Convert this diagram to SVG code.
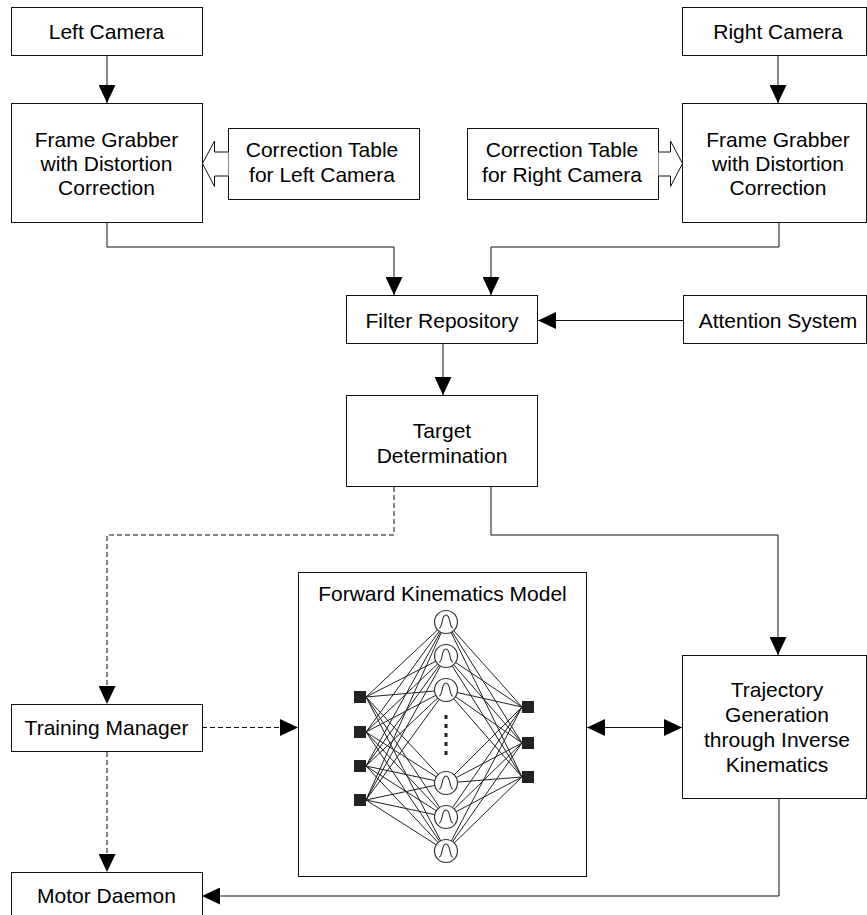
<svg xmlns="http://www.w3.org/2000/svg" width="867" height="915" viewBox="0 0 867 915">
<style>
.box{fill:#fff;stroke:#111;stroke-width:1}
.t{font-family:"Liberation Sans",Arial,sans-serif;font-size:21px;fill:#000;text-anchor:middle}
.c{fill:none;stroke:#111;stroke-width:1}
.d{fill:none;stroke:#111;stroke-width:1;stroke-dasharray:5 3}
.nl{stroke:#222;stroke-width:1}
.neu{fill:#fff;stroke:#333;stroke-width:1.2}
.g{fill:none;stroke:#333;stroke-width:1.1}
.sq{fill:#222}
</style>
<defs>
<marker id="ah" viewBox="0 0 18 17" refX="18" refY="8.5" markerWidth="18" markerHeight="17" markerUnits="userSpaceOnUse" orient="auto-start-reverse">
<path d="M0,0 L18,8.5 L0,17 z" fill="#000"/>
</marker>
</defs>
<rect width="867" height="915" fill="#fff"/>
<g id="connectors">
<path class="c" d="M107,55 V103" marker-end="url(#ah)"/>
<path class="c" d="M778,55 V103" marker-end="url(#ah)"/>
<path class="c" d="M107,222 V247 H394 V295" marker-end="url(#ah)"/>
<path class="c" d="M779,222 V247 H491 V295" marker-end="url(#ah)"/>
<path class="c" d="M683,320.5 H538" marker-end="url(#ah)"/>
<path class="c" d="M443,344 V395" marker-end="url(#ah)"/>
<path class="d" d="M394,487 V535 H107 V704" marker-end="url(#ah)"/>
<path class="c" d="M491,487 V535 H778 V655" marker-end="url(#ah)"/>
<path class="d" d="M202,727.5 H298" marker-end="url(#ah)"/>
<path class="c" d="M587,727.5 H682" marker-start="url(#ah)" marker-end="url(#ah)"/>
<path class="d" d="M107,752 V872" marker-end="url(#ah)"/>
<path class="c" d="M779,799 V896 H202" marker-end="url(#ah)"/>
</g>
<g id="left-camera">
<rect class="box" x="11.5" y="7.5" width="191" height="48"/>
<text class="t" x="106.5" y="39">Left Camera</text>
</g>
<g id="right-camera">
<rect class="box" x="682.5" y="7.5" width="184" height="48"/>
<text class="t" x="778" y="39">Right Camera</text>
</g>
<g id="frame-grabber-left">
<rect class="box" x="11.5" y="103.5" width="191" height="119"/>
<text class="t" x="106.5" y="147">Frame Grabber</text>
<text class="t" x="106.5" y="171">with Distortion</text>
<text class="t" x="106.5" y="195">Correction</text>
</g>
<g id="correction-left">
<rect class="box" x="228.5" y="128.5" width="191" height="71"/>
<text class="t" x="322" y="157">Correction Table</text>
<text class="t" x="322" y="182">for Left Camera</text>
<path class="box" d="M228.5,152 H214.5 V141 L202.5,163.5 L214.5,186.5 V176 H228.5"/>
</g>
<g id="frame-grabber-right">
<rect class="box" x="682.5" y="103.5" width="184" height="119"/>
<text class="t" x="778" y="147">Frame Grabber</text>
<text class="t" x="778" y="171">with Distortion</text>
<text class="t" x="778" y="195">Correction</text>
</g>
<g id="correction-right">
<rect class="box" x="467.5" y="128.5" width="191" height="71"/>
<text class="t" x="562" y="157">Correction Table</text>
<text class="t" x="562" y="182">for Right Camera</text>
<path class="box" d="M658.5,152 H670.5 V141 L682.5,163.5 L670.5,186.5 V176 H658.5"/>
</g>
<g id="filter-repository">
<rect class="box" x="346.5" y="295.5" width="191" height="48"/>
<text class="t" x="442" y="328">Filter Repository</text>
</g>
<g id="attention-system">
<rect class="box" x="683.5" y="295.5" width="183" height="48"/>
<text class="t" x="778" y="328">Attention System</text>
</g>
<g id="target-determination">
<rect class="box" x="346.5" y="395.5" width="191" height="91"/>
<text class="t" x="442" y="438">Target</text>
<text class="t" x="442" y="463">Determination</text>
</g>
<g id="training-manager">
<rect class="box" x="11.5" y="704.5" width="191" height="47"/>
<text class="t" x="106.5" y="735">Training Manager</text>
</g>
<g id="trajectory-generation">
<rect class="box" x="682.5" y="655.5" width="184" height="143"/>
<text class="t" x="777" y="697">Trajectory</text>
<text class="t" x="777" y="722">Generation</text>
<text class="t" x="777" y="747">through Inverse</text>
<text class="t" x="777" y="772">Kinematics</text>
</g>
<g id="motor-daemon">
<rect class="box" x="11.5" y="872.5" width="191" height="48"/>
<text class="t" x="106.5" y="903">Motor Daemon</text>
</g>
<g id="forward-kinematics-model">
<rect class="box" x="298.5" y="572.5" width="288" height="304"/>
<text class="t" x="442.5" y="601">Forward Kinematics Model</text>
<g id="net-lines">
<path class="nl" d="M366,697 L446,622 M366,697 L446,656 M366,697 L446,690 M366,697 L446,783 M366,697 L446,817 M366,697 L446,851
M366,732 L446,622 M366,732 L446,656 M366,732 L446,690 M366,732 L446,783 M366,732 L446,817 M366,732 L446,851
M366,766 L446,622 M366,766 L446,656 M366,766 L446,690 M366,766 L446,783 M366,766 L446,817 M366,766 L446,851
M366,800 L446,622 M366,800 L446,656 M366,800 L446,690 M366,800 L446,783 M366,800 L446,817 M366,800 L446,851
M446,622 L522,707 M446,622 L522,743 M446,622 L522,777
M446,656 L522,707 M446,656 L522,743 M446,656 L522,777
M446,690 L522,707 M446,690 L522,743 M446,690 L522,777
M446,783 L522,707 M446,783 L522,743 M446,783 L522,777
M446,817 L522,707 M446,817 L522,743 M446,817 L522,777
M446,851 L522,707 M446,851 L522,743 M446,851 L522,777"/>
</g>
<g id="hidden-neurons">
<circle class="neu" cx="446" cy="622" r="11.5"/>
<circle class="neu" cx="446" cy="656" r="11.5"/>
<circle class="neu" cx="446" cy="690" r="11.5"/>
<circle class="neu" cx="446" cy="783" r="11.5"/>
<circle class="neu" cx="446" cy="817" r="11.5"/>
<circle class="neu" cx="446" cy="851" r="11.5"/>
<path class="g" d="M439,628 C443,628 441,615 446,615 C451,615 449,628 453,628"/>
<path class="g" d="M439,662 C443,662 441,649 446,649 C451,649 449,662 453,662"/>
<path class="g" d="M439,696 C443,696 441,683 446,683 C451,683 449,696 453,696"/>
<path class="g" d="M439,789 C443,789 441,776 446,776 C451,776 449,789 453,789"/>
<path class="g" d="M439,823 C443,823 441,810 446,810 C451,810 449,823 453,823"/>
<path class="g" d="M439,857 C443,857 441,844 446,844 C451,844 449,857 453,857"/>
</g>
<g id="ellipsis">
<rect class="sq" x="444.5" y="715" width="3" height="4"/>
<rect class="sq" x="444.5" y="724" width="3" height="4"/>
<rect class="sq" x="444.5" y="733" width="3" height="4"/>
<rect class="sq" x="444.5" y="742" width="3" height="4"/>
<rect class="sq" x="444.5" y="751" width="3" height="4"/>
</g>
<g id="inputs">
<rect class="sq" x="354" y="691" width="12" height="12"/>
<rect class="sq" x="354" y="726" width="12" height="12"/>
<rect class="sq" x="354" y="760" width="12" height="12"/>
<rect class="sq" x="354" y="794" width="12" height="12"/>
</g>
<g id="outputs">
<rect class="sq" x="522" y="701" width="12" height="12"/>
<rect class="sq" x="522" y="737" width="12" height="12"/>
<rect class="sq" x="522" y="771" width="12" height="12"/>
</g>
</g>
</svg>
